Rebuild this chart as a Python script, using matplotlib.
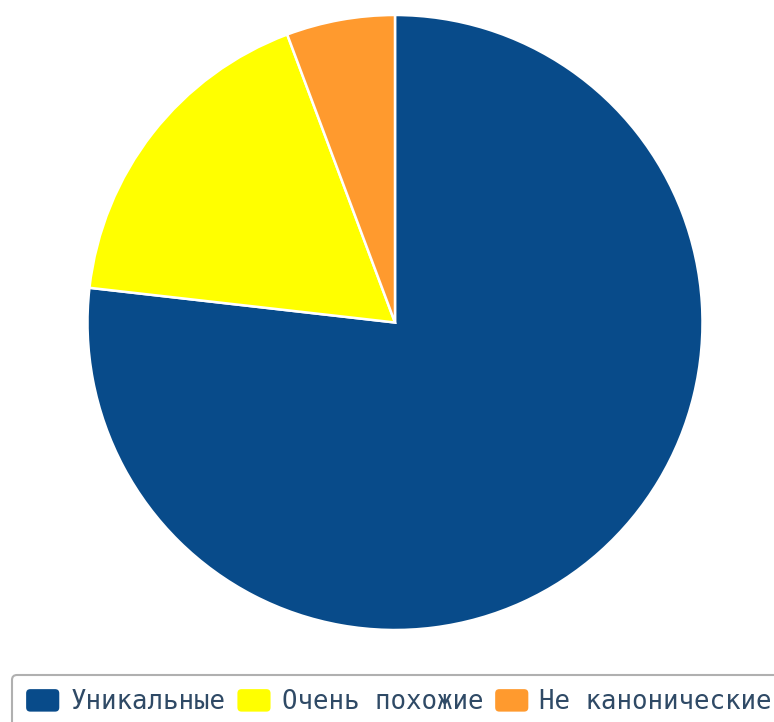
import matplotlib
matplotlib.use('Agg')
import matplotlib.pyplot as plt
from matplotlib.patches import FancyBboxPatch
from matplotlib.legend_handler import HandlerPatch

labels = ['Уникальные', 'Очень похожие', 'Не канонические']
values = [76.8, 17.5, 5.7]
colors = ['#084b8a', '#ffff00', '#ff9a2e']


class RoundedHandler(HandlerPatch):
    def create_artists(self, legend, orig_handle, xdescent, ydescent,
                       width, height, fontsize, trans):
        p = FancyBboxPatch((-xdescent, -ydescent), width, height,
                           boxstyle='round,pad=0,rounding_size=3',
                           facecolor=orig_handle.get_facecolor(),
                           edgecolor='none', transform=trans)
        return [p]


def main():
    fig = plt.figure(figsize=(7.74, 7.22), dpi=100)
    ax = fig.add_axes([87.5 / 774, (722 - 322.5 - 307.5) / 722,
                       615 / 774, 615 / 722])
    wedges, _ = ax.pie(values, colors=colors, startangle=90,
                       counterclock=False,
                       wedgeprops=dict(edgecolor='white', linewidth=1.8))
    ax.set_xlim(-1, 1)
    ax.set_ylim(-1, 1)
    ax.set_aspect('equal')
    ax.axis('off')

    leg = fig.legend(wedges, labels, loc='upper left',
                     bbox_to_anchor=(12 / 774, 1 - 675 / 722),
                     bbox_transform=fig.transFigure,
                     ncol=3, borderaxespad=0,
                     prop={'family': 'DejaVu Sans Mono', 'size': 18.5},
                     labelcolor='#2f4a66',
                     handlelength=1.29, handleheight=0.97,
                     handletextpad=0.43, columnspacing=0.47,
                     borderpad=0.55, fancybox=True, framealpha=1,
                     edgecolor='#b0b0b0',
                     handler_map={matplotlib.patches.Wedge: RoundedHandler()})
    leg.get_frame().set_linewidth(1.5)

    fig.savefig('out.png', dpi=100)


if __name__ == "__main__":
    main()
